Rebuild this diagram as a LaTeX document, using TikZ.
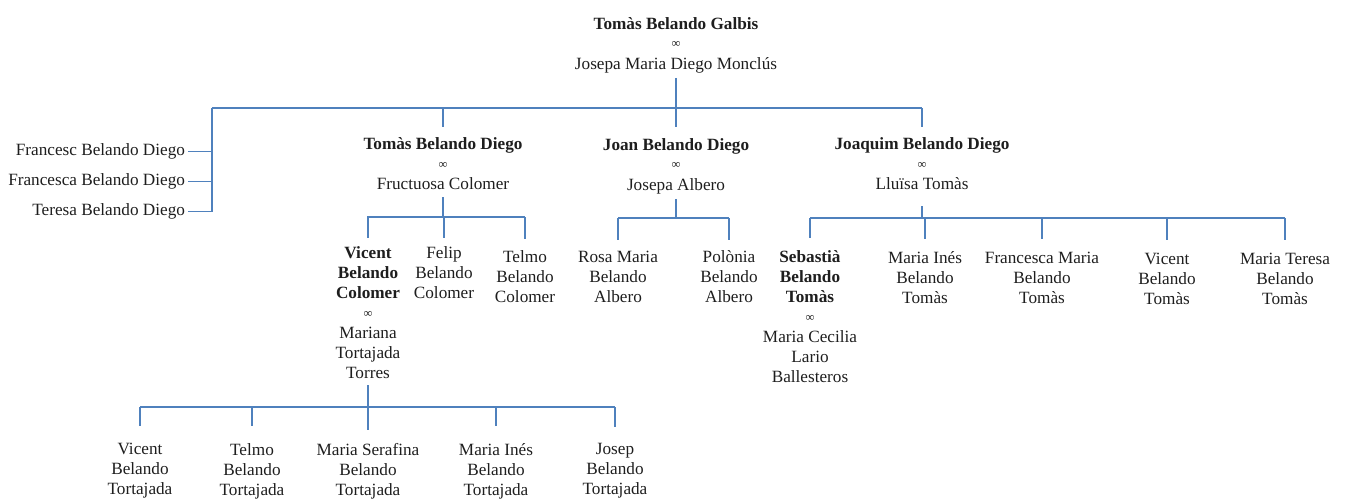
\documentclass[tikz,border=0pt]{standalone}
\usepackage{fontspec}
\setmainfont{Liberation Serif}
\definecolor{treeblue}{RGB}{79,129,189}
\definecolor{inktext}{RGB}{30,30,30}
\newcommand\infsym{{\fontsize{12.5}{12}\selectfont\raisebox{1.5pt}{∞}}}
\begin{document}
\begin{tikzpicture}[x=1pt,y=-1pt,
  person/.style={align=center, inner sep=0pt, outer sep=0pt,
    font=\fontsize{17.2}{20}\selectfont, text=inktext},
  tree/.style={draw=treeblue, line width=1.3pt}]
\useasboundingbox (0,0) rectangle (1348,498);

% ---------- people ----------
\node[person] (top) at (676,45) {\textbf{Tomàs Belando Galbis}\\\infsym\\Josepa Maria Diego Monclús};

\node[person, anchor=east] (fr1) at (185,151.5) {Francesc Belando Diego};
\node[person, anchor=east] (fr2) at (185,181.5) {Francesca Belando Diego};
\node[person, anchor=east] (fr3) at (185,211.5) {Teresa Belando Diego};

\node[person] (tbd) at (443,164) {\textbf{Tomàs Belando Diego}\\\infsym\\Fructuosa Colomer};
\node[person] (jbd) at (676,166) {\textbf{Joan Belando Diego}\\\infsym\\Josepa Albero};
\node[person] (jqbd) at (922,164) {\textbf{Joaquim Belando Diego}\\\infsym\\Lluïsa Tomàs};

\node[person] (vbc) at (368,313) {\textbf{Vicent}\\\textbf{Belando}\\\textbf{Colomer}\\\infsym\\Mariana\\Tortajada\\Torres};
\node[person] (felip) at (444,273) {Felip\\Belando\\Colomer};
\node[person] (telmo) at (525,277) {Telmo\\Belando\\Colomer};

\node[person] (rosa) at (618,277) {Rosa Maria\\Belando\\Albero};
\node[person] (polonia) at (729,277) {Polònia\\Belando\\Albero};

\node[person] (seb) at (810,317) {\textbf{Sebastià}\\\textbf{Belando}\\\textbf{Tomàs}\\\infsym\\Maria Cecilia\\Lario\\Ballesteros};
\node[person] (mines) at (925,278) {Maria Inés\\Belando\\Tomàs};
\node[person] (fmaria) at (1042,278) {Francesca Maria\\Belando\\Tomàs};
\node[person] (vicentT) at (1167,279) {Vicent\\Belando\\Tomàs};
\node[person] (mteresa) at (1285,279) {Maria Teresa\\Belando\\Tomàs};

\node[person] (vto) at (140,471) {Vicent\\Belando\\Tortajada};
\node[person] (tto) at (252,471) {Telmo\\Belando\\Tortajada};
\node[person] (mser) at (368,471) {Maria Serafina\\Belando\\Tortajada};
\node[person] (minto) at (496,471) {Maria Inés\\Belando\\Tortajada};
\node[person] (josep) at (615,471) {Josep\\Belando\\Tortajada};

% ---------- bus points ----------
\coordinate (b0w) at (212,108);
\coordinate (b0c) at (676,108);
\coordinate (b0e) at (922,108);
\coordinate (bTw) at (367,217);
\coordinate (bTc) at (443,217);
\coordinate (bTe) at (525,217);
\coordinate (bJw) at (618,218);
\coordinate (bJc) at (676,218);
\coordinate (bJe) at (729,218);
\coordinate (bQw) at (810,218);
\coordinate (bQc) at (922,218);
\coordinate (bQe) at (1285,218);
\coordinate (bVw) at (140,407);
\coordinate (bVc) at (368,407);
\coordinate (bVe) at (615,407);

% ---------- generation 1 ----------
\draw[tree, shorten <=5pt] (top.south) -- (b0c);
\draw[tree] (b0w) -- (b0e);
\draw[tree, shorten >=11pt] (b0c) -- (jbd.north);
\draw[tree, shorten >=11pt] (tbd.north |- b0c) -- (tbd.north);
\draw[tree, shorten >=11pt] (jqbd.north |- b0c) -- (jqbd.north);
\draw[tree] (b0w) -- (fr3.east -| b0w);
\draw[tree, shorten <=3pt] (fr1.east) -- (fr1.east -| b0w);
\draw[tree, shorten <=3pt] (fr2.east) -- (fr2.east -| b0w);
\draw[tree, shorten <=3pt] (fr3.east) -- (fr3.east -| b0w);

% ---------- Tomas Belando Diego ----------
\draw[tree, shorten <=7pt] (tbd.south) -- (bTc);
\draw[tree] (bTw) -- (bTe);
\draw[tree, shorten >=9pt] (vbc.north |- bTc) -- (vbc.north);
\draw[tree, shorten >=9pt] (felip.north |- bTc) -- (felip.north);
\draw[tree, shorten >=12pt] (telmo.north |- bTc) -- (telmo.north);

% ---------- Joan Belando Diego ----------
\draw[tree, shorten <=5pt] (jbd.south) -- (bJc);
\draw[tree] (bJw) -- (bJe);
\draw[tree, shorten >=11pt] (rosa.north |- bJc) -- (rosa.north);
\draw[tree, shorten >=11pt] (polonia.north |- bJc) -- (polonia.north);

% ---------- Joaquim Belando Diego ----------
\draw[tree, shorten <=16pt] (jqbd.south) -- (bQc);
\draw[tree] (bQw) -- (bQe);
\draw[tree, shorten >=13pt] (seb.north |- bQc) -- (seb.north);
\draw[tree, shorten >=13pt] (mines.north |- bQc) -- (mines.north);
\draw[tree, shorten >=13pt] (fmaria.north |- bQc) -- (fmaria.north);
\draw[tree, shorten >=13pt] (vicentT.north |- bQc) -- (vicentT.north);
\draw[tree, shorten >=13pt] (mteresa.north |- bQc) -- (mteresa.north);

% ---------- Vicent Belando Colomer ----------
\draw[tree, shorten <=6pt, shorten >=13pt] (vbc.south) -- (mser.north);
\draw[tree] (bVw) -- (bVe);
\draw[tree, shorten >=17pt] (vto.north |- bVc) -- (vto.north);
\draw[tree, shorten >=17pt] (tto.north |- bVc) -- (tto.north);
\draw[tree, shorten >=17pt] (minto.north |- bVc) -- (minto.north);
\draw[tree, shorten >=17pt] (josep.north |- bVc) -- (josep.north);
\end{tikzpicture}
\end{document}
